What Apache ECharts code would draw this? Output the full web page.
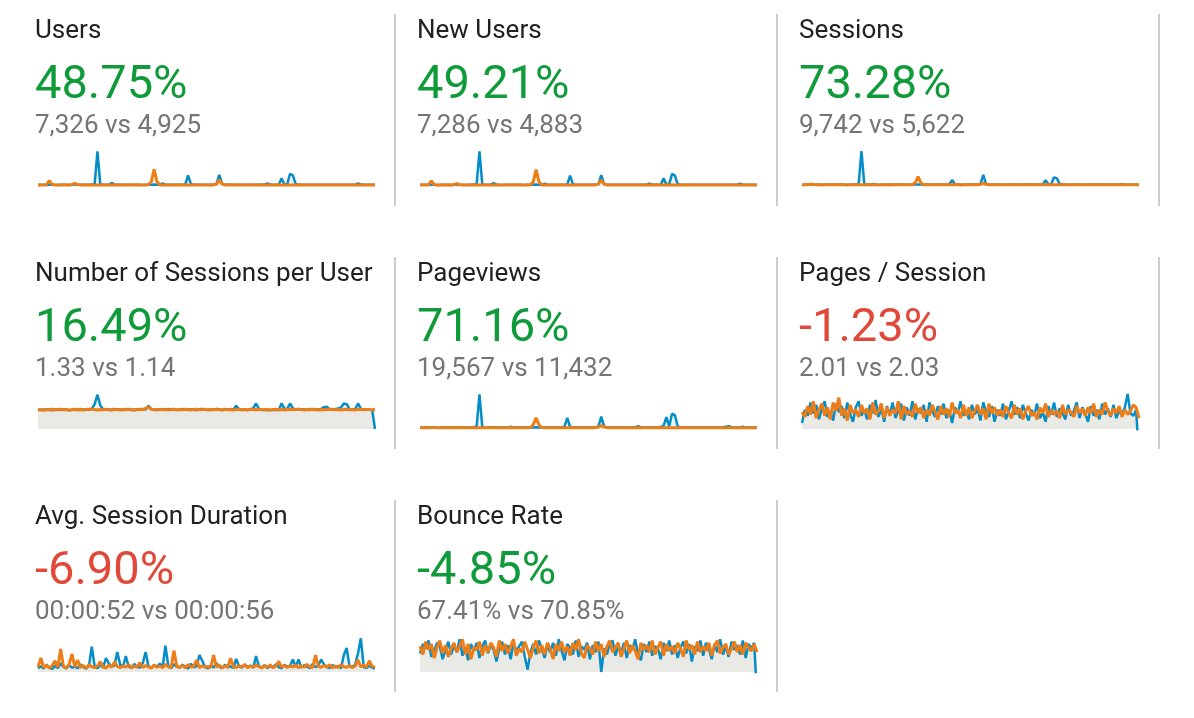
<!DOCTYPE html>
<html>
<head>
	<meta charset="utf-8">
	<title>Audience overview</title>
	<script src="https://cdn.jsdelivr.net/npm/echarts@6/dist/echarts.min.js"></script>
	<style>
		html, body { margin: 0; padding: 0; background: #fff; }
		#main { width: 1194px; height: 718px; }
	</style>
</head>
<body>
	<div id="main"></div>
</body>

<script type="text/javascript">
	// card texts
	var metricNames = ['Users', 'New Users', 'Sessions', 'Number of Sessions per User', 'Pageviews', 'Pages / Session', 'Avg. Session Duration', 'Bounce Rate'];
	var metricChange = ['48.75%', '49.21%', '73.28%', '16.49%', '71.16%', '-1.23%', '-6.90%', '-4.85%'];
	var metricGood = [true, true, true, true, true, false, false, true];
	var metricCompare = ['7,326 vs 4,925', '7,286 vs 4,883', '9,742 vs 5,622', '1.33 vs 1.14', '19,567 vs 11,432', '2.01 vs 2.03', '00:00:52 vs 00:00:56', '67.41% vs 70.85%'];

	// daily values, current period (blue) and previous period (orange)
	var usersCur = [
		38,42,45,40,44,47,41,39,43,46, 44,40,42,45,48,43,41,44,47,52,
		70,1250,60,45,42,48,110,50,44,41, 43,46,44,42,45,47,43,40,44,46,
		48,52,47,45,90,48,44,43,46,49, 45,47,60,380,70,46,44,42,45,48,
		47,44,46,70,400,80,48,45,43,46, 44,42,45,47,44,46,43,48,45,50,
		47,90,52,46,44,48,280,60,70,440, 380,70,50,46,44,42,45,43,46,44,
		42,45,47,44,43,46,48,45,44,47, 43,45,48,90,50,44,42,45,43,41];
	var usersPrev = [
		34,36,38,45,190,50,36,35,37,38, 36,38,55,90,50,37,35,36,38,37,
		39,36,35,37,38,40,36,35,37,38, 36,35,38,37,39,36,38,37,40,42,
		150,600,160,40,38,36,37,39,38,36, 37,38,36,39,38,37,35,36,38,37,
		39,38,40,70,220,75,40,38,37,36, 38,37,39,36,38,40,37,36,38,39,
		37,38,36,39,37,38,40,38,37,36, 38,39,37,36,38,37,39,38,36,37,
		38,36,37,39,38,37,36,38,37,39, 37,38,36,39,38,37,36,38,37,36];
	var newUsersCur = [
		37,41,44,40,43,46,40,39,42,45, 43,40,41,44,47,42,40,43,46,51,
		68,1245,58,44,41,47,105,49,43,40, 42,45,43,41,44,46,42,39,43,45,
		47,51,46,44,88,47,43,42,45,48, 44,46,58,375,68,45,43,41,44,47,
		46,43,45,68,395,78,47,44,42,45, 43,41,44,46,43,45,42,47,44,49,
		46,88,51,45,43,47,275,58,68,435, 375,68,49,45,43,41,44,42,45,43,
		41,44,46,43,42,45,47,44,43,46, 42,44,47,88,49,43,41,44,42,40];
	var newUsersPrev = [
		33,35,37,44,185,49,35,34,36,37, 35,37,54,88,49,36,34,35,37,36,
		38,35,34,36,37,39,35,34,36,37, 35,34,37,36,38,35,37,36,39,41,
		148,595,158,39,37,35,36,38,37,35, 36,37,35,38,37,36,34,35,37,36,
		38,37,39,68,215,73,39,37,36,35, 37,36,38,35,37,39,36,35,37,38,
		36,37,35,38,36,37,39,37,36,35, 37,38,36,35,37,36,38,37,35,36,
		37,35,36,38,37,36,35,37,36,38, 36,37,35,38,37,36,35,37,36,35];
	var sessionsCur = [
		52,56,60,54,58,62,55,53,57,61, 58,54,56,60,63,57,55,58,62,66,
		85,1500,75,60,56,90,64,58,55,57, 56,60,58,55,59,62,57,54,58,61,
		63,68,62,59,70,62,58,57,60,64, 59,62,75,255,80,60,58,56,59,63,
		62,58,60,85,480,90,62,59,57,60, 58,56,59,62,58,61,57,63,59,65,
		62,70,66,60,58,62,255,75,85,375, 330,85,64,60,58,56,59,57,60,58,
		56,59,62,58,57,60,63,59,58,62, 57,59,63,80,65,58,56,59,57,55];
	var sessionsPrev = [
		48,50,52,75,60,52,49,48,50,51, 49,51,55,62,54,50,48,49,51,50,
		52,49,48,50,51,53,49,48,50,51, 49,48,51,50,52,49,51,50,53,56,
		140,405,130,53,51,49,50,52,51,49, 50,51,49,52,51,50,48,49,51,50,
		52,51,54,75,120,72,53,51,50,49, 51,50,52,49,51,53,50,49,51,52,
		50,51,49,52,50,51,53,51,50,49, 51,52,50,49,51,50,52,51,49,50,
		51,49,50,52,51,50,49,51,50,52, 50,51,49,52,51,50,49,51,50,49];
	var spuCur = [
		1.30,1.33,1.28,1.35,1.31,1.29,1.34,1.32,1.30,1.36, 1.33,1.29,1.31,1.34,1.30,1.37,1.32,1.35,1.31,1.38,
		1.70,2.35,1.62,1.36,1.32,1.34,1.29,1.33,1.36,1.31, 1.34,1.30,1.37,1.33,1.29,1.35,1.32,1.38,1.34,1.60,
		1.36,1.31,1.34,1.30,1.36,1.33,1.38,1.32,1.35,1.31, 1.34,1.37,1.33,1.30,1.36,1.32,1.29,1.35,1.38,1.33,
		1.31,1.36,1.32,1.38,1.34,1.30,1.35,1.33,1.37,1.32, 1.60,1.36,1.31,1.34,1.30,1.36,1.42,1.75,1.38,1.31,
		1.31,1.31,1.30,1.31,1.30,1.31,1.75,1.40,1.36,1.75, 1.42,1.34,1.38,1.33,1.36,1.31,1.37,1.34,1.30,1.36,
		1.38,1.50,1.52,1.36,1.33,1.37,1.40,1.48,1.75,1.70, 1.38,1.34,1.37,1.75,1.40,1.33,1.35,1.32,1.31,0];
	var spuPrev = [
		1.32,1.30,1.34,1.31,1.33,1.35,1.30,1.33,1.36,1.32, 1.34,1.31,1.33,1.36,1.32,1.34,1.31,1.33,1.35,1.37,
		1.33,1.30,1.34,1.32,1.35,1.31,1.33,1.36,1.32,1.34, 1.31,1.35,1.33,1.30,1.34,1.32,1.36,1.33,1.42,1.50,
		1.36,1.33,1.31,1.35,1.32,1.34,1.30,1.33,1.36,1.31, 1.34,1.32,1.35,1.33,1.30,1.34,1.36,1.32,1.33,1.35,
		1.31,1.34,1.32,1.36,1.33,1.30,1.35,1.32,1.34,1.31, 1.33,1.35,1.32,1.34,1.31,1.33,1.36,1.32,1.34,1.33,
		1.32,1.34,1.31,1.33,1.35,1.32,1.34,1.31,1.33,1.35, 1.32,1.34,1.36,1.33,1.31,1.34,1.32,1.35,1.33,1.31,
		1.34,1.32,1.35,1.33,1.36,1.32,1.34,1.31,1.33,1.35, 1.32,1.34,1.31,1.33,1.35,1.32,1.34,1.33,1.32,1.33];
	var pageviewsCur = [
		96,102,108,98,104,112,100,95,103,110, 105,98,101,107,114,103,99,105,112,125,
		170,2400,140,108,101,115,120,106,99,97, 102,110,150,104,98,106,112,103,97,105,
		110,118,108,103,112,109,101,99,106,113, 104,160,770,150,109,105,101,98,104,111,
		108,102,106,170,865,180,110,104,100,106, 103,99,104,108,112,118,130,190,125,112,
		107,115,118,105,102,150,210,815,190,1055, 960,170,115,106,102,98,104,100,106,102,
		99,104,108,103,101,106,112,120,150,190, 140,105,110,118,150,112,104,100,103,98];
	var pageviewsPrev = [
		85,88,92,90,110,95,87,86,89,90, 88,90,95,100,93,88,86,87,90,89,
		91,87,86,89,90,93,88,86,89,91, 88,87,90,89,92,88,91,90,95,99,
		300,770,290,96,92,88,89,93,91,88, 89,91,88,93,90,89,86,88,91,89,
		93,91,96,140,240,135,94,91,89,88, 91,89,93,88,91,95,90,88,91,93,
		89,91,88,93,89,91,95,91,89,88, 91,93,89,88,91,89,93,91,88,89,
		91,88,89,93,91,89,88,91,89,93, 89,91,88,93,91,89,88,91,89,88];
	var ppsCur = [
		1.55,2.10,1.85,2.40,1.95,2.30,1.70,2.15,2.45,1.80, 2.05,1.65,2.35,2.00,2.25,1.75,2.40,1.90,1.60,2.20,
		2.45,1.85,2.10,1.70,2.30,1.95,2.50,1.80,2.15,1.60, 2.25,1.90,2.40,1.75,2.05,2.35,1.65,2.20,1.85,2.45,
		1.70,2.15,1.95,2.30,1.60,2.40,2.05,1.80,2.25,1.90, 2.35,1.75,2.10,1.55,2.20,1.95,2.45,1.85,2.05,1.70,
		2.30,1.90,2.15,1.65,2.40,2.00,1.80,2.25,1.60,2.10, 1.85,2.35,1.70,2.05,2.45,1.90,2.20,1.75,2.30,1.95,
		1.65,2.10,1.85,2.35,1.75,2.00,1.60,2.25,1.90,2.40, 1.80,2.15,1.95,1.70,2.30,1.85,2.05,2.40,1.75,2.20,
		1.95,1.60,2.25,1.85,2.10,1.70,2.35,1.90,2.15,1.80, 2.30,1.75,2.05,1.90,2.20,2.75,1.95,1.85,2.10,0];
	var ppsPrev = [
		2.00,1.80,2.25,1.90,2.45,1.75,2.10,2.35,1.85,2.20, 1.70,2.40,2.05,2.60,1.85,2.15,1.65,2.30,1.95,2.10,
		1.80,2.30,1.95,2.15,1.70,2.40,1.90,2.05,2.35,1.75, 2.20,1.85,2.10,1.95,2.45,1.70,2.25,1.90,2.05,1.80,
		2.35,1.95,2.20,1.75,2.10,1.85,2.30,2.00,1.70,2.25, 1.90,2.15,1.80,2.40,1.95,2.10,1.75,2.30,1.85,2.20,
		1.75,2.05,2.30,1.90,2.15,1.70,2.35,1.95,2.20,1.85, 2.10,1.80,2.25,1.95,1.75,2.30,1.90,2.15,1.70,2.05,
		2.25,1.85,2.00,1.70,2.20,1.95,2.35,1.80,2.10,1.90, 2.05,1.75,2.30,1.90,2.10,2.00,1.80,2.25,1.95,2.15,
		1.85,2.20,1.95,2.35,1.80,2.10,1.90,2.40,2.05,1.85, 2.15,1.95,2.25,1.80,2.10,1.90,2.05,2.30,2.20,1.75];
	var durCur = [
		30,45,28,60,35,25,48,32,70,40, 28,55,35,42,30,62,38,27,50,203,
		45,30,58,35,112,70,40,52,160,60, 38,128,45,30,65,40,35,72,160,48,
		32,55,40,68,36,210,50,30,62,42, 35,58,40,28,66,38,48,136,90,40,
		30,52,36,70,42,30,58,38,45,32, 104,45,35,60,40,52,34,128,45,38,
		55,32,48,36,62,40,30,58,42,50, 100,40,100,35,55,42,30,64,38,52,
		100,60,40,32,56,38,48,30,136,192, 45,38,60,150,270,40,32,50,36,28];
	var durPrev = [
		40,112,35,55,30,50,90,38,184,45, 32,60,144,40,96,35,52,30,58,42,
		36,48,83,40,32,55,38,80,45,34, 50,38,60,32,46,40,75,35,52,40,
		30,56,38,48,34,62,40,36,171,45, 38,52,32,60,40,46,96,35,50,38,
		44,36,136,40,55,32,48,38,110,42, 35,52,40,60,34,48,38,56,42,32,
		50,38,58,34,46,85,40,52,36,48, 40,56,34,50,38,62,42,36,136,45,
		38,52,40,58,34,48,36,60,42,38, 52,36,48,96,40,55,38,90,45,40];
	var bounceCur = [
		72,88,80,94,66,76,90,84,62,78, 92,70,86,74,96,68,82,60,88,76,
		90,64,84,94,72,86,78,58,80,92, 70,86,62,90,76,84,92,66,44,74,
		88,70,94,80,64,86,74,90,68,96, 76,60,88,82,70,94,66,84,78,90,
		62,86,74,92,40,80,70,88,94,68, 84,72,90,64,86,78,96,70,60,88,
		74,92,68,84,80,62,90,76,94,70, 86,64,82,92,72,88,58,84,76,94,
		68,90,80,62,88,74,96,70,84,66, 92,78,86,70,94,64,88,80,90,0];
	var bouncePrev = [
		84,70,92,78,88,64,82,94,72,86, 66,80,90,74,84,96,70,88,62,82,
		78,92,68,86,74,90,82,66,94,76, 88,72,84,96,68,80,74,92,78,64,
		82,94,72,86,70,90,80,62,88,76, 92,74,84,68,90,78,96,72,64,86,
		80,70,92,76,88,66,84,94,74,82, 90,66,80,94,72,86,76,62,90,78,
		86,74,94,70,82,92,68,88,76,84, 72,90,80,66,94,78,86,70,92,74,
		84,76,90,68,86,94,72,82,88,70, 80,92,74,86,70,90,82,76,88,74];

	var curData = [usersCur, newUsersCur, sessionsCur, spuCur, pageviewsCur, ppsCur, durCur, bounceCur];
	var prevData = [usersPrev, newUsersPrev, sessionsPrev, spuPrev, pageviewsPrev, ppsPrev, durPrev, bouncePrev];

	// day labels for the x axis
	var days = [];
	for (var d = 0; d < usersCur.length; d++) {
		var dt = new Date(2019, 0, 1 + d);
		days.push((dt.getMonth() + 1) + '/' + dt.getDate());
	}

	var yMin = [0, 0, 0, 0, 0, 1.3, 0, 40];
	var yMax = [1260, 1260, 1510, 2.4, 2420, 2.75, 280, 100];

	var colX = [35, 417, 799];
	var rowY = [0, 243, 486];
	var blue = '#058dc7', orange = '#ed7e17';

	var grids = [], xAxes = [], yAxes = [], series = [], graphics = [];

	$each(metricNames, function(i, name){
		var left = colX[i % 3], top = rowY[Math.floor(i / 3)];

		grids.push({left: left + 3, top: top + 151, width: 337, height: 35});
		xAxes.push({type: 'category', gridIndex: i, data: days, boundaryGap: false, show: false});
		yAxes.push({type: 'value', gridIndex: i, min: yMin[i], max: yMax[i], show: false});

		series.push({
			type: 'line', xAxisIndex: i, yAxisIndex: i, data: curData[i],
			symbol: 'none', silent: true,
			lineStyle: {color: blue, width: 2.5},
			areaStyle: {color: 'rgba(5,141,199,0.12)'}
		});
		series.push({
			type: 'line', xAxisIndex: i, yAxisIndex: i, data: prevData[i],
			symbol: 'none', silent: true,
			lineStyle: {color: orange, width: 3},
			areaStyle: {color: 'rgba(237,126,23,0.13)'}
		});

		graphics.push(txt(left, top + 31.5, name, '400 26px Roboto', '#212121'));
		graphics.push(txt(left, top + 86.5, metricChange[i], '400 47px Roboto', metricGood[i] ? '#109b3a' : '#e0493a'));
		graphics.push(txt(left, top + 126, metricCompare[i], '400 26px Roboto', '#757575'));
	});

	// separators between cards
	var sepX = [395, 777, 1159];
	for (var r = 0; r < 3; r++) {
		for (var c = 0; c < 3; c++) {
			if (r * 3 + c >= metricNames.length) continue;
			graphics.push({
				type: 'line', silent: true,
				shape: {x1: sepX[c], y1: rowY[r] + 14, x2: sepX[c], y2: rowY[r] + 206},
				style: {stroke: '#cccccc', lineWidth: 2}
			});
		}
	}

	function txt(x, y, text, font, color){
		return {
			type: 'text', x: x, y: y, silent: true,
			style: {text: text, font: font, fill: color, textAlign: 'left', verticalAlign: 'middle', textVerticalAlign: 'middle'}
		};
	}

	function $each(arr, fn){
		for (var k = 0; k < arr.length; k++) fn(k, arr[k]);
	}

	var myChart = echarts.init(document.getElementById('main'));
	myChart.setOption({
		animation: false,
		grid: grids,
		xAxis: xAxes,
		yAxis: yAxes,
		series: series,
		graphic: graphics
	});
</script>
</html>
